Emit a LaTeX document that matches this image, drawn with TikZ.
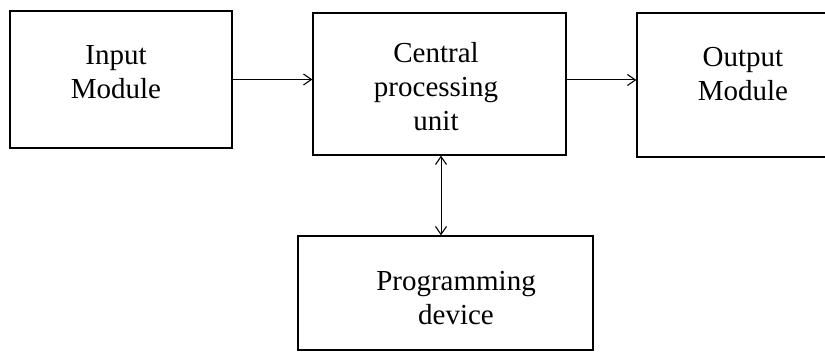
\documentclass[tikz,border=0pt]{standalone}
\usepackage{fontspec}
\setmainfont{Liberation Serif}
\usetikzlibrary{positioning}
\usetikzlibrary{arrows.meta}

\tikzset{
  block/.style={draw, line width=1.2pt, inner sep=0pt},
  caption/.style={align=center, inner sep=0pt, font=\fontsize{29}{34}\selectfont},
  link/.style={line width=1pt, -{Straight Barb[length=8pt, width=11pt, line width=1.1pt]}},
  duplex/.style={line width=1pt, {Straight Barb[length=8pt, width=11pt, line width=1.1pt]}-{Straight Barb[length=8pt, width=11pt, line width=1.1pt]}}
}

\begin{document}
\begin{tikzpicture}[x=1pt, y=-1pt]
\useasboundingbox (0,0) rectangle (825,352);
\clip (0,0) rectangle (825,352);

\node[block, minimum width=222pt, minimum height=137pt] (input) at (121,79.5) {};
\node[block, minimum width=253pt, minimum height=142pt] (cpu) at (439.5,84) {};
\node[block, minimum width=214pt, minimum height=144pt] (output) at (744,85) {};
\node[block, minimum width=295pt, minimum height=114pt] (prog) at (445.5,293) {};

\node[caption] (inputtext) at (116,72) {Input\\Module};
\node[caption] (cputext) at (436,87) {Central\\processing\\unit};
\node[caption] (outputtext) at (743,74) {Output\\Module};
\node[caption] (progtext) at (456,298) {Programming\\device};

\draw[link] (input.east) -- (input.east -| cpu.west);
\draw[link] ([yshift=4pt]cpu.east) -- ([yshift=4pt]cpu.east -| output.west);
\draw[duplex] ([xshift=1.5pt]cpu.south) -- ([xshift=1.5pt]cpu.south |- prog.north);

\end{tikzpicture}
\end{document}
